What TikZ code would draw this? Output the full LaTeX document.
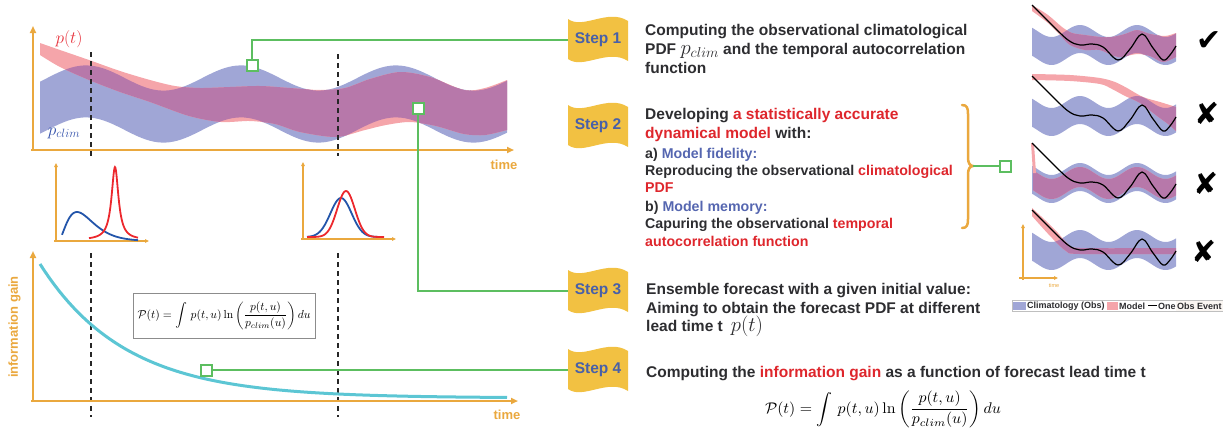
\documentclass[tikz,border=0pt]{standalone}
\usepackage[no-math]{fontspec}
\setmainfont{Liberation Sans}
\newfontfamily\djv{DejaVu Sans}
\usepackage{graphicx}
\usetikzlibrary{arrows.meta}
\definecolor{axisor}{RGB}{234,168,62}
\definecolor{txtdark}{RGB}{45,45,48}
\definecolor{redt}{RGB}{222,38,44}
\definecolor{bluet}{RGB}{85,102,176}
\definecolor{steptxt}{RGB}{72,96,168}
\definecolor{bannery}{RGB}{242,193,66}
\definecolor{greenc}{RGB}{92,190,96}
\definecolor{cyanc}{RGB}{92,198,212}
\definecolor{bandblue}{RGB}{160,166,214}
\definecolor{bandpink}{RGB}{245,165,170}
\definecolor{bandpurple}{RGB}{183,120,170}
\definecolor{pdfred}{RGB}{236,40,45}
\definecolor{pdfblue}{RGB}{35,85,170}
\definecolor{labred}{RGB}{230,50,60}
\definecolor{labblue}{RGB}{50,80,170}

\def\MBlue{plot[domain=40:507,samples=120] (\x,{104-12.6*cos(2.3226*(\x-86))-26}) -- plot[domain=507:40,samples=120] (\x,{104-12.6*cos(2.3226*(\x-86))+26}) -- cycle}
\def\MPink{plot[smooth] coordinates {(40,43) (60,50) (89,60) (120,71) (150,80) (175,86) (200,88) (230,87) (260,86) (290,88) (320,90) (345,88) (370,79) (400,72) (430,77) (464,90) (485,88) (507,80)} -- plot[smooth] coordinates {(507,130) (485,135) (464,134) (436,126) (410,122) (386,125) (365,130) (336,137) (300,132) (275,124) (250,121) (221,122) (189,116) (150,102) (120,92) (89,80) (60,67) (40,55)} -- cycle}
\def\TBlue{plot[domain=1032:1176,samples=73] (\x,{-6*cos(6.3158*(\x-1080))-14}) -- plot[domain=1176:1032,samples=73] (\x,{-6*cos(6.3158*(\x-1080))+14}) -- cycle}
\def\TBlack{plot[smooth,tension=0.6] coordinates {(1032,-40) (1050,-22) (1068,-5) (1080,0) (1092,-1) (1103,2) (1118,15) (1130,4) (1142,-11) (1153,3) (1163,15) (1170,10) (1176,1)}}
\def\TPinkA{plot[smooth] coordinates {(1032,-40) (1048,-30) (1062,-18) (1072,-12) (1085,-10) (1100,-8) (1112,-8) (1125,-11) (1137,-15) (1150,-11) (1165,-9) (1176,-12)} -- plot[smooth] coordinates {(1176,12) (1163,17) (1150,11) (1137,9) (1118,12) (1100,5) (1085,5) (1070,0) (1060,-10) (1048,-22) (1032,-34)} -- cycle}
\def\TPinkB{plot[smooth] coordinates {(1032,-42) (1070,-41) (1100,-38) (1115,-34) (1127,-28) (1143,-19) (1160,-14) (1176,-9)} -- plot[smooth] coordinates {(1176,15) (1168,8) (1157,0) (1140,-13) (1125,-20) (1112,-27) (1100,-32) (1070,-35) (1032,-36)} -- cycle}
\def\TPinkC{plot[domain=1033:1176,samples=73] (\x,{-6*cos(6.3158*(\x-1080))-10}) -- plot[domain=1176:1033,samples=73] (\x,{-6*cos(6.3158*(\x-1080))+10}) -- cycle}
\def\TPinkD{plot[smooth] coordinates {(1032,-42) (1045,-30) (1058,-17) (1068,-6) (1080,-2) (1176,-2)} -- plot[smooth] coordinates {(1176,4) (1080,4) (1066,1) (1052,-12) (1040,-25) (1032,-34)} -- cycle}

\newcommand\stepbanner[4]{%
  \fill[bannery, shift={(#1,#2)}] (-30,-21) .. controls (-15,-10) and (10,-32) .. (30,-19) -- (30,21) .. controls (10,8) and (-15,30) .. (-30,19) -- cycle;
  \node[steplbl] (#3) at (#1,#2) {#4};}

\newcommand\thumbnail[2]{%
  \begin{scope}[shift={(0,#1)}]
    \fill[bandblue] \TBlue;
    \fill[bandpink] #2;
    \begin{scope}\clip #2; \fill[bandpurple] \TBlue; \end{scope}
  \end{scope}}

\begin{document}
\begin{tikzpicture}[x=1pt,y=-1pt,
  axisline/.style={draw=axisor, line width=2.5pt, -{Triangle[length=7pt,width=6pt]}},
  smallaxis/.style={draw=axisor, line width=1.3pt, -{Triangle[length=4pt,width=3.5pt]}},
  dashline/.style={draw=black!85, line width=1.4pt, dash pattern=on 5pt off 4pt},
  axlabel/.style={text=axisor, font=\bfseries\fontsize{13pt}{13pt}\selectfont, inner sep=0pt},
  gline/.style={draw=greenc, line width=1.5pt},
  gsq/.style={draw=greenc, line width=2pt, fill=white, minimum size=11pt, inner sep=0pt},
  steplbl/.style={text=steptxt, font=\bfseries\fontsize{15.5pt}{18pt}\selectfont, minimum width=60pt, minimum height=42pt, inner sep=0pt},
  desc/.style={anchor=north west, inner sep=0pt, align=left, text=txtdark, font=\bfseries\fontsize{15.5pt}{18.6pt}\selectfont},
  descsmall/.style={anchor=north west, inner sep=0pt, align=left, text=txtdark, font=\bfseries\fontsize{14.2pt}{17.3pt}\selectfont},
  legtxt/.style={text=txtdark, font=\bfseries\fontsize{9pt}{9pt}\selectfont, inner sep=0pt},
  markglyph/.style={font=\djv\fontsize{30pt}{30pt}\selectfont, inner sep=0pt}
]
\useasboundingbox (0,0) rectangle (1228,434);

% ---------- top panel ----------
\fill[bandblue] \MBlue;
\fill[bandpink] \MPink;
\begin{scope}\clip \MPink; \fill[bandpurple] \MBlue; \end{scope}
\draw[dashline] (91,52) -- (91,157);
\draw[dashline] (338,54) -- (338,156);
\draw[axisline] (33,151) -- (33,26);
\draw[axisline] (31,150) -- (514,150);
\node[axlabel] (time1) at (504,165) {time};
\node[text=labred, font=\fontsize{18pt}{18pt}\selectfont, inner sep=0pt] (plab) at (69,39) {$p(t)$};
\node[text=labblue, font=\fontsize{17pt}{17pt}\selectfont, inner sep=0pt] (pclab) at (64,133) {$p_{clim}$};

% ---------- small pdf panels ----------
\draw[smallaxis] (56,242) -- (56,163);
\draw[smallaxis] (54,241) -- (149,241);
\draw[pdfblue, line width=1.8pt] plot[domain=62:138,samples=80] (\x,{241-29*((\x-58)/19)*((\x-58)/19)*exp(2*(1-(\x-58)/19))});
\draw[pdfred, line width=1.8pt] plot[domain=89:138,samples=120] (\x,{240-73/(1+((\x-115)/4.2)*((\x-115)/4.2))});
\draw[smallaxis] (303,240) -- (303,162);
\draw[smallaxis] (301,239) -- (396,239);
\draw[pdfblue, line width=1.8pt] plot[domain=307:382,samples=80] (\x,{237-39*exp(-((\x-341)/15)*((\x-341)/15))});
\draw[pdfred, line width=1.8pt] plot[domain=307:384,samples=80] (\x,{237-46*exp(-((\x-346)/12.5)*((\x-346)/12.5))});

% ---------- bottom panel ----------
\draw[dashline] (91,253) -- (91,417);
\draw[dashline] (338,253) -- (338,417);
\draw[cyanc, line width=3pt] plot[domain=40:507,samples=100] (\x,{398-134*exp(-(\x-40)/85)});
\draw[axisline] (33,402) -- (33,251);
\draw[axisline] (31,401) -- (518,401);
\node[axlabel] (time2) at (507,415) {time};
\node[axlabel, rotate=90] (iglab) at (14.5,327) {information gain};
\node[draw=black!45, line width=0.8pt, fill=white, minimum width=182pt, minimum height=45pt, inner sep=0pt] (fbox) at (224,315.5) {\resizebox{173pt}{!}{$\displaystyle \mathcal{P}(t)=\int\, p(t,u)\ln\left(\frac{p(t,u)}{p_{clim}(u)}\right)du$}};

% ---------- steps ----------
\stepbanner{598}{40}{s1}{Step 1}
\stepbanner{598}{126}{s2}{Step 2}
\stepbanner{598}{291}{s3}{Step 3}
\stepbanner{598}{370}{s4}{Step 4}

\node[desc] (t1) at (645,24.5) {Computing the observational climatological\\PDF \smash{\fontsize{21pt}{21pt}\selectfont$p_{clim}$} and the temporal autocorrelation\\function};
\node[desc] (t2) at (645,108.3) {Developing \textcolor{redt}{a statistically accurate}\\\textcolor{redt}{dynamical model} with:};
\node[descsmall] (t2b) at (645,147.7) {a) \textcolor{bluet}{Model fidelity:}\\Reproducing the observational \textcolor{redt}{climatological}\\\textcolor{redt}{PDF}\\[1.5pt]b) \textcolor{bluet}{Model memory:}\\Capuring the observational \textcolor{redt}{temporal}\\\textcolor{redt}{autocorrelation function}};
\node[desc] (t3) at (646,283.3) {Ensemble forecast with a given initial value:\\Aiming to obtain the forecast PDF at different\\lead time t\hspace{8pt}\smash{\fontsize{21pt}{21pt}\selectfont$p(t)$}};
\node[desc] (t4) at (646,366.5) {Computing the \textcolor{redt}{information gain} as a function of forecast lead time t};
\node[inner sep=0pt] (f4) at (883,409.5) {\resizebox*{236pt}{37pt}{$\displaystyle \mathcal{P}(t)=\int\, p(t,u)\ln\left(\frac{p(t,u)}{p_{clim}(u)}\right)du$}};

% brace
\draw[axisor, line width=2.5pt, line cap=round] (962,105) .. controls (967,105) and (968,108) .. (968,114) -- (968,158) .. controls (968,163) and (970,166) .. (973,166) .. controls (970,166) and (968,169) .. (968,174) -- (968,219) .. controls (968,225) and (967,228) .. (962,228);
\coordinate (brtip) at (973,166);

% ---------- thumbnails ----------
\thumbnail{45}{\TPinkA}
\thumbnail{116}{\TPinkB}
\thumbnail{183}{\TPinkC}
\fill[bandpink] (1031,143) -- (1034,144) -- (1036,173) -- (1033,173) -- cycle;
\thumbnail{250}{\TPinkD}
\begin{scope}[shift={(0,45)}]\draw[black, line width=1.2pt] \TBlack;\end{scope}
\begin{scope}[shift={(0,116)}]\draw[black, line width=1.2pt] \TBlack;\end{scope}
\begin{scope}[shift={(0,183)}]\draw[black, line width=1.2pt] \TBlack;\end{scope}
\begin{scope}[shift={(0,250)}]\draw[black, line width=1.2pt] \TBlack;\end{scope}
\draw[axisor, line width=1.2pt, -{Triangle[length=4pt,width=3.5pt]}] (1023,280) -- (1023,224);
\draw[axisor, line width=1.2pt, -{Triangle[length=4pt,width=3.5pt]}] (1019,278) -- (1058,278);
\node[text=axisor, font=\fontsize{5.5pt}{5.5pt}\selectfont, inner sep=0pt] (time3) at (1054,286) {time};

\node[markglyph] (ck1) at (1209,41) {✔};
\node[markglyph] (x2) at (1207,113) {✘};
\node[markglyph] (x3) at (1206,183) {✘};
\node[markglyph] (x4) at (1204,251) {✘};

% legend
\node[draw=black!25, line width=0.6pt, minimum width=210pt, minimum height=11pt, inner sep=0pt] (legbox) at (1117,306) {};
\fill[bandblue] (1013,302) rectangle (1026,310);
\node[legtxt, anchor=west] (lg1) at (1027,306) {Climatology (Obs)};
\fill[bandpink] (1107,302) rectangle (1118,310);
\node[legtxt, anchor=west] (lg2) at (1119,306) {Model};
\draw[black, line width=1.2pt] (1148,305.5) -- (1157,305.5);
\node[legtxt, anchor=west] (lg3) at (1158,306) {One};
\node[legtxt, anchor=west, fill={rgb,255:red,250;green,246;blue,242}, inner xsep=1pt, minimum height=10pt] (lg4) at (1176,306) {Obs Event};

% ---------- green connectors ----------
\draw[gline] (252,65) |- (s1.west);
\draw[gline] (418,108) |- (s3.west);
\draw[gline] (206,370) -- (s4.west);
\draw[gline] (brtip) -- (1000,166);
\node[gsq] (sq1) at (252,65) {};
\node[gsq] (sq2) at (418,108) {};
\node[gsq] (sq3) at (206,370) {};
\node[gsq] (sq4) at (1005,166) {};
\end{tikzpicture}
\end{document}
